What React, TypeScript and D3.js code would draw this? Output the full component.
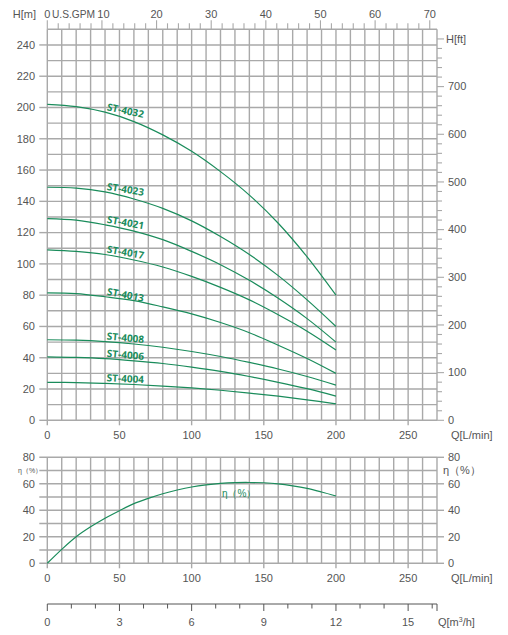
import * as d3 from 'd3';

const flow = [0, 20, 40, 60, 80, 100, 120, 140, 160, 180, 200];
const models = ['ST-4032', 'ST-4023', 'ST-4021', 'ST-4017', 'ST-4013', 'ST-4008', 'ST-4006', 'ST-4004'];
const head4032 = [202, 200.5, 197, 191, 182.5, 172, 159, 144, 126, 104.5, 80];
const head4023 = [149, 148.5, 146, 141.5, 135.5, 127.5, 117.5, 106, 92.5, 77, 60];
const head4021 = [129, 128, 125, 121, 115.5, 108, 99.5, 89.5, 78, 65, 50];
const head4017 = [109, 108, 106, 102.5, 98, 92, 85, 77, 67.5, 57, 45];
const head4013 = [81.5, 81, 79, 76.5, 72.5, 68, 62.5, 56, 48, 39.5, 30];
const head4008 = [51.5, 51.2, 50.3, 48.8, 46.7, 44, 40.8, 37, 32.8, 28, 22.5];
const head4006 = [40.6, 40.2, 39.4, 38, 36.3, 34, 31.3, 28, 24.3, 20.2, 15.5];
const head4004 = [24.3, 24.1, 23.6, 22.9, 21.9, 20.7, 19.2, 17.4, 15.4, 13.1, 10.5];
const heads = [head4032, head4023, head4021, head4017, head4013, head4008, head4006, head4004];
const labelAngles = [12, 9, 10, 10, 11, 5, 5, 2.5];

const effFlow = [0, 10, 20, 30, 40, 50, 60, 70, 80, 90, 100, 110, 120, 130, 140, 150, 160, 170, 180, 190, 200];
const effValues = [0, 10.5, 20, 27.5, 34, 39.7, 45, 49, 52.5, 55.3, 57.6, 59.2, 60.3, 60.9, 61, 60.8, 60, 58.5, 56.5, 53.8, 50.8];

const headTicks = [0, 20, 40, 60, 80, 100, 120, 140, 160, 180, 200, 220, 240];
const feetTicks = [0, 100, 200, 300, 400, 500, 600, 700];
const gpmTicks = [0, 10, 20, 30, 40, 50, 60, 70];
const flowTicks = [0, 50, 100, 150, 200, 250];
const effTicks = [0, 20, 40, 60, 80];
const m3hTicks = [0, 3, 6, 9, 12, 15];

const GREEN = '#1a8c5b';
const GRID = '#a9a9a9';
const TEXT = '#555555';
const FONT = 'Liberation Sans, Arial, sans-serif';

const QMAX = 270;
const x = d3.scaleLinear().domain([0, QMAX]).range([47.3, 437]);
const y = d3.scaleLinear().domain([0, 250]).range([420.3, 29.3]);
const yFt = d3.scaleLinear().domain([0, 250 * 3.28084]).range(y.range());
const xGpm = d3.scaleLinear().domain([0, QMAX / 3.78541]).range(x.range());
const xM3h = d3.scaleLinear().domain([0, QMAX * 0.06]).range(x.range());
const yEff = d3.scaleLinear().domain([0, 80]).range([563.3, 457.3]);
const M3H_Y = 604;

export default function App() {
  const [x0, x1] = x.range();
  const vGrid = d3.range(0, QMAX + 1, 10);
  const hGrid = d3.range(0, 251, 10);
  const effGrid = d3.range(0, 81, 10);

  const headLine = d3
    .line<number>()
    .x((_, i) => x(flow[i]))
    .y((d) => y(d))
    .curve(d3.curveCatmullRom.alpha(0.5));

  const effLine = d3
    .line<number>()
    .x((_, i) => x(effFlow[i]))
    .y((d) => yEff(d))
    .curve(d3.curveCatmullRom.alpha(0.5));

  return (
    <svg
      width={508}
      height={635}
      style={{ position: 'absolute', left: 0, top: 0, background: '#fff' }}
      fontFamily={FONT}
    >
      {/* main grid */}
      <g stroke={GRID} strokeWidth={1.4}>
        {vGrid.map((q) => (
          <line key={`v${q}`} x1={x(q)} x2={x(q)} y1={y(250)} y2={y(0)} />
        ))}
        {hGrid.map((h) => (
          <line key={`h${h}`} x1={x0} x2={x1} y1={y(h)} y2={y(h)} />
        ))}
        {headTicks.map((h) => (
          <line key={`lt${h}`} x1={x0 - 8} x2={x0} y1={y(h)} y2={y(h)} />
        ))}
        {flowTicks.map((q) => (
          <line key={`bt${q}`} x1={x(q)} x2={x(q)} y1={y(0)} y2={y(0) + 5} />
        ))}
      </g>

      {/* left H[m] labels */}
      <g fill={TEXT} fontSize={11} textAnchor="end">
        {headTicks.map((h) => (
          <text key={h} x={35} y={y(h)} dy="0.35em">
            {h}
          </text>
        ))}
        <text x={36} y={18}>H[m]</text>
      </g>

      {/* top GPM axis */}
      <g stroke={GRID} strokeWidth={1.1}>
        {d3.range(0, xGpm.domain()[1], 2).map((g) => (
          <line
            key={g}
            x1={xGpm(g)}
            x2={xGpm(g)}
            y1={y(250)}
            y2={y(250) - (g % 10 === 0 ? 9 : 6)}
          />
        ))}
      </g>
      <g fill={TEXT} fontSize={11} textAnchor="middle">
        {gpmTicks.map((g) => (
          <text key={g} x={xGpm(g) + (g === 10 ? 1.5 : 0)} y={18}>
            {g}
          </text>
        ))}
        <text x={52} y={18} textAnchor="start" textLength={43} lengthAdjust="spacingAndGlyphs">
          U.S.GPM
        </text>
      </g>

      {/* right H[ft] axis */}
      <g stroke={GRID} strokeWidth={1.1}>
        {d3.range(0, 801, 20).map((f) => (
          <line key={f} x1={x1} x2={x1 + (f % 100 === 0 ? 7 : 5)} y1={yFt(f)} y2={yFt(f)} />
        ))}
      </g>
      <g fill={TEXT} fontSize={11}>
        {feetTicks.map((f) => (
          <text key={f} x={448} y={yFt(f)} dy="0.35em">
            {f}
          </text>
        ))}
        <text x={446} y={yFt(800)} dy="0.35em">
          H[ft]
        </text>
      </g>

      {/* bottom Q labels of main chart */}
      <g fill={TEXT} fontSize={11} textAnchor="middle">
        {flowTicks.map((q) => (
          <text key={q} x={x(q)} y={439}>
            {q}
          </text>
        ))}
        <text x={451} y={439} textAnchor="start">
          Q[L/min]
        </text>
      </g>

      {/* head curves */}
      <g fill="none" stroke={GREEN} strokeWidth={1.2}>
        {heads.map((h, i) => (
          <path key={models[i]} d={headLine(h) ?? ''} />
        ))}
      </g>
      <g fill={GREEN} fontSize={10} fontWeight="bold" fontFamily="Open Sans, sans-serif">
        {heads.map((h, i) => {
          const lx = x(41);
          const ly = y(h[2]) - 2;
          return (
            <text key={models[i]} x={lx} y={ly} transform={`rotate(${labelAngles[i]},${lx},${ly})`}>
              {models[i]}
            </text>
          );
        })}
      </g>

      {/* efficiency chart */}
      <g stroke={GRID} strokeWidth={1.4}>
        {vGrid.map((q) => (
          <line key={`ev${q}`} x1={x(q)} x2={x(q)} y1={yEff(80)} y2={yEff(0)} />
        ))}
        {effGrid.map((e) => (
          <line key={`eh${e}`} x1={x0 - 8} x2={x1} y1={yEff(e)} y2={yEff(e)} />
        ))}
        {effTicks.map((e) => (
          <line key={`er${e}`} x1={x1} x2={x1 + 7} y1={yEff(e)} y2={yEff(e)} />
        ))}
        {flowTicks.map((q) => (
          <line key={`eb${q}`} x1={x(q)} x2={x(q)} y1={yEff(0)} y2={yEff(0) + 5} />
        ))}
      </g>
      <g fill={TEXT} fontSize={11}>
        {effTicks.map((e) => (
          <text key={`l${e}`} x={35} y={yEff(e)} dy="0.35em" textAnchor="end">
            {e}
          </text>
        ))}
        {effTicks.map((e) => (
          <text key={`r${e}`} x={448} y={yEff(e)} dy="0.35em">
            {e}
          </text>
        ))}
        <text x={443} y={yEff(70)} dy="0.35em">
          η（%）
        </text>
        <text x={18} y={yEff(70)} dy="0.35em" fontSize={7}>
          η（%）
        </text>
        {flowTicks.map((q) => (
          <text key={`b${q}`} x={x(q)} y={582} textAnchor="middle">
            {q}
          </text>
        ))}
        <text x={451} y={582}>
          Q[L/min]
        </text>
      </g>
      <path d={effLine(effValues) ?? ''} fill="none" stroke={GREEN} strokeWidth={1.2} />
      <text x={x(121)} y={yEff(50)} fill={GREEN} fontSize={10}>
        η（%）
      </text>

      {/* m3/h axis */}
      <g stroke="#555" strokeWidth={1}>
        <line x1={x0} x2={x1} y1={M3H_Y} y2={M3H_Y} />
        {d3.range(0, 17, 1).map((m) => (
          <line key={m} x1={xM3h(m)} x2={xM3h(m)} y1={M3H_Y} y2={M3H_Y + (m % 3 === 0 ? 7 : 4.5)} />
        ))}
        <line x1={x1} x2={x1} y1={M3H_Y} y2={M3H_Y + 7} />
      </g>
      <g fill={TEXT} fontSize={11}>
        {m3hTicks.map((m) => (
          <text key={m} x={xM3h(m)} y={626} textAnchor="middle">
            {m}
          </text>
        ))}
        <text x={438} y={626}>
          Q[m<tspan fontSize={7} dy={-4}>3</tspan>
          <tspan dy={4}>/h]</tspan>
        </text>
      </g>
    </svg>
  );
}
